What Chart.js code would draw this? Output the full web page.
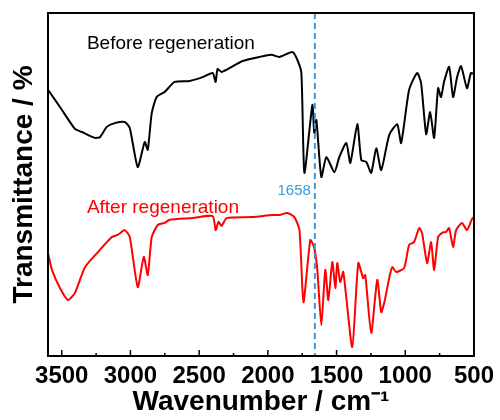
<!DOCTYPE html>
<html>
<head>
<meta charset="utf-8">
<script src="https://cdn.jsdelivr.net/npm/chart.js@4"></script>
<style>
  body { margin: 0; background: #fff; }
  canvas { display: block; }
</style>
</head>
<body>
<canvas id="ftir_chart" width="500" height="420"></canvas>
<script>
// wavenumber (cm-1) and relative transmittance
const before_wn = [3600, 3513, 3404, 3353, 3259, 3222, 3172, 3114, 3041, 3005, 2947, 2896, 2874, 2845, 2809, 2751, 2678, 2569, 2475, 2402, 2380, 2366, 2337, 2184, 2061, 1974, 1916, 1821, 1785, 1756, 1734, 1676, 1662, 1647, 1611, 1574, 1516, 1480, 1429, 1400, 1349, 1320, 1284, 1248, 1211, 1175, 1117, 1059, 1030, 972, 914, 885, 848, 819, 790, 761, 740, 718, 681, 652, 623, 594, 551, 522, 500];
const before_t = [77.6, 72.6, 66.2, 65.3, 63.6, 63.8, 66.8, 67.9, 68.2, 66.5, 55.1, 62.4, 60.1, 70.8, 75.5, 77.0, 79.9, 80.2, 81.3, 82.5, 79.9, 83.7, 82.8, 86.0, 87.2, 87.8, 87.2, 88.6, 86.3, 82.5, 53.4, 73.2, 65.0, 68.8, 52.2, 58.0, 53.6, 58.0, 62.1, 56.3, 67.6, 57.1, 56.6, 53.4, 60.6, 54.2, 64.4, 67.6, 62.1, 77.6, 82.5, 79.6, 64.7, 71.1, 63.6, 78.1, 75.5, 79.9, 84.3, 75.5, 81.3, 84.5, 78.1, 82.5, 82.2];

const after_wn = [3600, 3571, 3513, 3455, 3404, 3331, 3237, 3135, 3092, 3041, 3005, 2947, 2903, 2874, 2845, 2801, 2751, 2714, 2547, 2402, 2380, 2359, 2337, 2300, 2112, 1967, 1916, 1858, 1807, 1770, 1741, 1691, 1662, 1640, 1611, 1582, 1560, 1531, 1509, 1495, 1473, 1451, 1386, 1342, 1306, 1291, 1248, 1204, 1175, 1153, 1117, 1095, 1066, 1008, 972, 936, 899, 878, 841, 812, 790, 761, 732, 703, 681, 652, 630, 587, 551, 515, 500];
const after_t = [30.0, 25.1, 19.8, 16.3, 18.4, 25.9, 30.3, 34.7, 35.3, 36.7, 34.7, 20.1, 28.9, 23.6, 34.7, 38.2, 38.8, 39.7, 40.2, 40.8, 36.7, 39.1, 37.9, 40.2, 40.5, 41.1, 41.1, 41.7, 40.5, 36.7, 15.7, 33.8, 31.5, 25.1, 9.0, 25.1, 16.3, 27.4, 19.8, 27.1, 21.6, 24.5, 2.6, 27.1, 22.7, 23.6, 6.7, 22.2, 12.8, 15.5, 22.7, 25.9, 24.5, 25.7, 32.4, 33.2, 37.3, 35.9, 27.1, 33.2, 25.1, 34.7, 35.9, 36.2, 37.3, 31.8, 36.7, 38.8, 36.7, 39.9, 40.5];

const x_ticks = [3500, 3000, 2500, 2000, 1500, 1000, 500];
const x_minor_ticks = [3250, 2750, 2250, 1750, 1250, 750];
const marker_wn = 1658;

const font_family = "'Liberation Sans', Arial, sans-serif";

function to_points(xs, ys) {
  return xs.map((x, i) => ({ x: x, y: ys[i] }));
}

const frame_plugin = {
  id: "frame_plugin",
  afterDatasetsDraw(chart) {
    const ctx = chart.ctx;
    const area = chart.chartArea;
    const x_scale = chart.scales.x;
    const y_scale = chart.scales.y;
    ctx.save();

    // dashed marker line
    const mx = x_scale.getPixelForValue(marker_wn);
    ctx.strokeStyle = "#3a9ad9";
    ctx.lineWidth = 2;
    ctx.setLineDash([6, 4]);
    ctx.beginPath();
    ctx.moveTo(mx, area.top);
    ctx.lineTo(mx, area.bottom);
    ctx.stroke();
    ctx.setLineDash([]);

    // frame
    ctx.strokeStyle = "#000";
    ctx.lineWidth = 2;
    ctx.strokeRect(area.left, area.top, area.right - area.left, area.bottom - area.top);

    // inward ticks on the bottom axis
    ctx.lineWidth = 1.5;
    ctx.beginPath();
    x_ticks.forEach((v) => {
      const px = x_scale.getPixelForValue(v);
      ctx.moveTo(px, area.bottom);
      ctx.lineTo(px, area.bottom - 6);
    });
    x_minor_ticks.forEach((v) => {
      const px = x_scale.getPixelForValue(v);
      ctx.moveTo(px, area.bottom);
      ctx.lineTo(px, area.bottom - 3);
    });
    ctx.stroke();

    // labels
    ctx.textBaseline = "middle";
    ctx.font = "19px " + font_family;
    ctx.textAlign = "left";
    ctx.fillStyle = "#000";
    ctx.fillText("Before regeneration", x_scale.getPixelForValue(3317), y_scale.getPixelForValue(91));
    ctx.fillStyle = "#ff0000";
    ctx.fillText("After regeneration", x_scale.getPixelForValue(3317), y_scale.getPixelForValue(43.1));
    ctx.font = "15px " + font_family;
    ctx.textAlign = "right";
    ctx.fillStyle = "#3a9ad9";
    ctx.fillText(String(marker_wn), mx - 4, y_scale.getPixelForValue(48.1));
    ctx.restore();
  },
};

new Chart(document.getElementById("ftir_chart"), {
  type: "line",
  data: {
    datasets: [
      {
        label: "Before regeneration",
        data: to_points(before_wn, before_t),
        borderColor: "#000000",
        borderWidth: 2,
        pointRadius: 0,
        tension: 0.2,
        fill: false,
      },
      {
        label: "After regeneration",
        data: to_points(after_wn, after_t),
        borderColor: "#ff0000",
        borderWidth: 2,
        pointRadius: 0,
        tension: 0.2,
        fill: false,
      },
    ],
  },
  options: {
    responsive: false,
    animation: false,
    layout: { padding: { top: 13, right: 25, left: 0, bottom: 0 } },
    plugins: {
      legend: { display: false },
      tooltip: { enabled: false },
    },
    scales: {
      x: {
        type: "linear",
        reverse: true,
        min: 500,
        max: 3600,
        grid: { display: false, drawTicks: false, tickLength: 0 },
        border: { display: false },
        afterBuildTicks: (scale) => {
          scale.ticks = x_ticks.map((v) => ({ value: v }));
        },
        afterFit: (scale) => {
          scale.height = 64;
        },
        ticks: {
          padding: 6,
          maxRotation: 0,
          autoSkip: false,
          color: "#000",
          font: { family: font_family, size: 24, weight: "bold" },
          callback: (value) => String(value),
        },
        title: {
          display: true,
          text: "Wavenumber / cm\u207B\u00B9",
          color: "#000",
          padding: { top: 0, bottom: 1 },
          font: { family: font_family, size: 28, weight: "bold" },
        },
      },
      y: {
        min: 0,
        max: 100,
        grid: { display: false, drawTicks: false, tickLength: 0 },
        border: { display: false },
        ticks: { display: false },
        afterFit: (scale) => {
          scale.width = 48;
        },
        title: {
          display: true,
          text: "Transmittance / %",
          color: "#000",
          padding: { top: 7, bottom: 0 },
          font: { family: font_family, size: 28, weight: "bold" },
        },
      },
    },
  },
  plugins: [frame_plugin],
});
</script>
</body>
</html>
